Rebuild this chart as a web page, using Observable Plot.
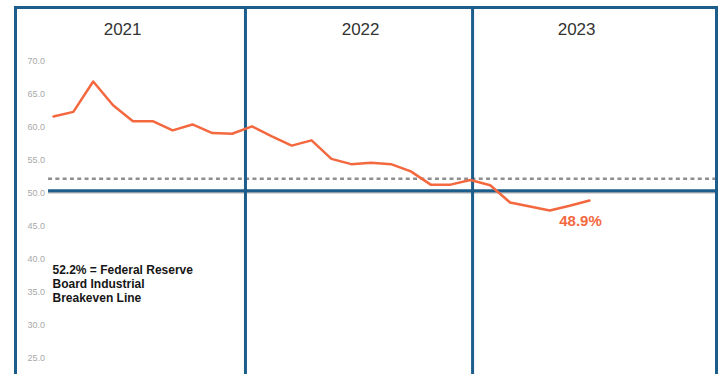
<!DOCTYPE html>
<html>
<head>
<meta charset="utf-8">
<script src="https://cdn.jsdelivr.net/npm/d3@7"></script>
<script src="https://cdn.jsdelivr.net/npm/@observablehq/plot@0.6"></script>
<style>
  html, body { margin: 0; padding: 0; background: #fff; overflow: hidden; }
  #chart svg { display: block; }
</style>
</head>
<body>
<div id="chart"></div>
<script>
// ---- data ----
const months = [
  "2021-01","2021-02","2021-03","2021-04","2021-05","2021-06","2021-07","2021-08","2021-09","2021-10","2021-11","2021-12",
  "2022-01","2022-02","2022-03","2022-04","2022-05","2022-06","2022-07","2022-08","2022-09","2022-10","2022-11","2022-12",
  "2023-01","2023-02","2023-03","2023-04"
];
const pmi = [61.6, 62.3, 66.9, 63.3, 60.9, 60.9, 59.5, 60.4, 59.1, 59.0, 60.1, 58.6,
             57.2, 58.0, 55.2, 54.4, 54.6, 54.4, 53.3, 51.3, 51.3, 52.0, 51.2, 48.6,
             48.0, 47.4, 48.1, 48.9];
const yTicks = [25, 30, 35, 40, 45, 50, 55, 60, 65, 70];
const years = ["2021", "2022", "2023"];
const breakeven = 52.2;
const baseline = 50;
const noteText = "52.2% = Federal Reserve\nBoard Industrial\nBreakeven Line";
const endLabel = "48.9%";

// ---- layout (in x-index units) ----
const dividerPos = [9.67, 21.11];
const yearPos = [3.48, 15.47, 26.35];
const ruleStart = -0.25, ruleEnd = 33.4;
const noteX = -0.05, noteY = 36.3;

const blue = "#1d5d8c";
const orange = "#f4683f";

const data = months.map((m, i) => ({i, month: m, value: pmi[i]}));

const chart = Plot.plot({
  width: 720,
  height: 374,
  marginTop: 7,
  marginLeft: 15,
  marginRight: 4,
  marginBottom: -10,
  x: {domain: [0, 27], range: [53, 589], axis: null},
  y: {domain: [25, 70], range: [358, 60.5], axis: null},
  style: {fontFamily: "'Liberation Sans', Arial, sans-serif", background: "#fff"},
  marks: [
    Plot.text(yTicks, {frameAnchor: "left", y: d => d, text: d => d.toFixed(1), textAnchor: "end", dx: 29.5, fill: "#a8a8a8", fontSize: 9}),
    Plot.ruleY([breakeven], {x1: ruleStart, x2: ruleEnd, stroke: "#8f8f8f", strokeWidth: 2.5, strokeDasharray: "4,3.3"}),
    Plot.ruleY([baseline], {x1: ruleStart, x2: ruleEnd, stroke: "#b0b0b0", strokeWidth: 1.5, dy: -0.5}),
    Plot.ruleY([baseline], {x1: ruleStart, x2: ruleEnd, stroke: blue, strokeWidth: 3, dy: -2.5}),
    Plot.ruleX(dividerPos, {stroke: blue, strokeWidth: 3}),
    Plot.frame({stroke: blue, strokeWidth: 3}),
    Plot.line(data, {x: "i", y: "value", stroke: orange, strokeWidth: 2.5, curve: "linear"}),
    Plot.text(years, {x: (d, i) => yearPos[i], frameAnchor: "top", dy: 15, text: d => d, fontSize: 17, fill: "#333"}),
    Plot.text([noteText], {x: noteX, y: noteY, text: d => d, textAnchor: "start", lineAnchor: "middle", lineHeight: 1.17, fontSize: 12, fontWeight: "bold", fill: "#161616"}),
    Plot.text([data[data.length - 1]], {x: "i", y: "value", text: () => endLabel, dx: -9, dy: 21, fill: orange, fontSize: 15, fontWeight: "bold"})
  ]
});
document.getElementById("chart").appendChild(chart);
</script>
</body>
</html>
